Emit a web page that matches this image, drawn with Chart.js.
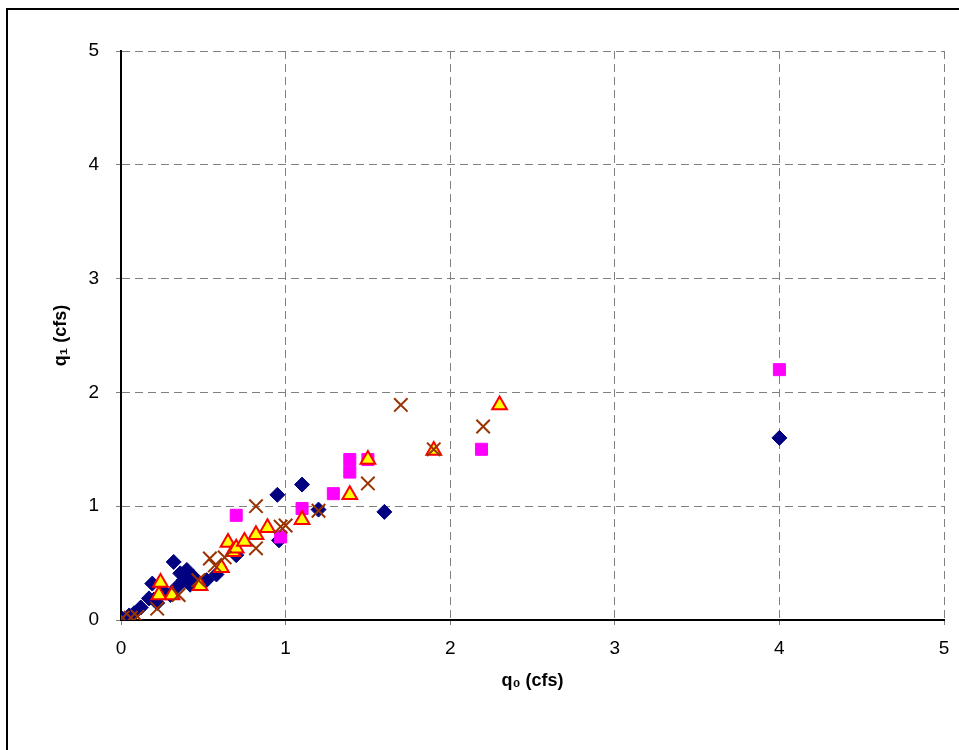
<!DOCTYPE html>
<html>
<head>
<meta charset="utf-8">
<script src="https://cdn.jsdelivr.net/npm/chart.js@4"></script>
<style>
  html, body { margin: 0; padding: 0; background: #fff; overflow: hidden; }
  #frame { position: absolute; left: 6px; top: 8px; width: 1000px; height: 800px; border: 2px solid #000; }
  #wrap { position: absolute; left: 0; top: 0; width: 959px; height: 750px; }
</style>
</head>
<body>
<div id="frame"></div>
<div id="wrap"><canvas id="maincanvas"></canvas></div>
<script>
// series: q0 (x) and q1 (y), cfs
var diamondX = [0.01, 0.05, 0.08, 0.12, 0.17, 0.19, 0.2, 0.22, 0.26, 0.3, 0.32, 0.34, 0.36, 0.38, 0.4, 0.42, 0.44, 0.52, 0.58, 0.7, 0.95, 0.96, 1.1, 1.2, 1.6, 4.0];
var diamondY = [0.01, 0.04, 0.06, 0.11, 0.19, 0.32, 0.18, 0.15, 0.25, 0.22, 0.51, 0.29, 0.41, 0.35, 0.44, 0.31, 0.38, 0.35, 0.4, 0.57, 1.1, 0.7, 1.19, 0.97, 0.95, 1.6];

var squareX = [0.7, 0.97, 1.1, 1.29, 1.39, 1.39, 1.5, 2.19, 4.0];
var squareY = [0.92, 0.73, 0.98, 1.11, 1.3, 1.41, 1.41, 1.5, 2.2];

var triangleX = [0.23, 0.24, 0.31, 0.48, 0.61, 0.65, 0.68, 0.7, 0.75, 0.82, 0.89, 1.1, 1.39, 1.5, 1.9, 2.3];
var triangleY = [0.22, 0.33, 0.22, 0.3, 0.46, 0.68, 0.6, 0.63, 0.69, 0.75, 0.81, 0.88, 1.1, 1.41, 1.49, 1.89];

var crossX = [0.01, 0.06, 0.1, 0.22, 0.35, 0.47, 0.54, 0.57, 0.63, 0.82, 0.82, 0.97, 1.0, 1.2, 1.5, 1.7, 1.9, 2.2];
var crossY = [0.02, 0.02, 0.03, 0.1, 0.22, 0.35, 0.54, 0.48, 0.55, 0.63, 1.0, 0.82, 0.83, 0.96, 1.2, 1.89, 1.5, 1.7];

var xTicks = [0, 1, 2, 3, 4, 5];
var yTicks = [0, 1, 2, 3, 4, 5];

function pts(xs, ys) {
    return xs.map(function(x, i){ return { x: x, y: ys[i] }; });
}

var ctx = document.getElementById("maincanvas").getContext("2d");
var mainChart = new Chart(ctx, {
    type: "scatter",
    data: {
        datasets: [{
            data: pts(diamondX, diamondY),
            pointStyle: "rectRot",
            pointRadius: 7.5,
            backgroundColor: "#000080",
            borderColor: "#000080",
            borderWidth: 1,
            order: 4
        }, {
            data: pts(squareX, squareY),
            pointStyle: "rect",
            pointRadius: 8.5,
            backgroundColor: "#FF00FF",
            borderColor: "#FF00FF",
            borderWidth: 1,
            order: 3
        }, {
            data: pts(triangleX, triangleY),
            pointStyle: "triangle",
            pointRadius: 8.5,
            backgroundColor: "#FFFF00",
            borderColor: "#FF0000",
            borderWidth: 2,
            order: 2
        }, {
            data: pts(crossX, crossY),
            pointStyle: "crossRot",
            pointRadius: 9.5,
            backgroundColor: "#993300",
            borderColor: "#993300",
            borderWidth: 2,
            order: 1
        }]
    },
    options: {
        responsive: true,
        maintainAspectRatio: false,
        animation: false,
        layout: { padding: { left: 48, top: 51, right: 15, bottom: 58 } },
        plugins: { legend: { display: false }, tooltip: { enabled: false } },
        scales: {
            x: {
                type: "linear",
                min: 0, max: 5,
                afterFit: function(s){ s.height = 72; s.paddingLeft = 0; s.paddingRight = 0; },
                afterBuildTicks: function(s){ s.ticks = xTicks.map(function(v){ return { value: v }; }); },
                grid: { color: "#808080", lineWidth: 1, tickLength: 5, tickColor: "#808080" },
                border: { display: true, color: "#000", width: 2, dash: [8, 5] },
                ticks: { color: "#000", font: { family: "Liberation Sans, Arial", size: 19 }, padding: 12, maxRotation: 0 },
                title: { display: true, text: "q\u2080 (cfs)", color: "#000", font: { family: "Liberation Sans, Arial", size: 18, weight: "bold" }, padding: { top: 0, bottom: 0 } }
            },
            y: {
                type: "linear",
                min: 0, max: 5,
                afterFit: function(s){ s.width = 121 - 48; s.paddingTop = 0; s.paddingBottom = 0; },
                afterBuildTicks: function(s){ s.ticks = yTicks.map(function(v){ return { value: v }; }); },
                grid: { color: "#808080", lineWidth: 1, tickLength: 5, tickColor: "#808080" },
                border: { display: true, color: "#000", width: 2, dash: [8, 5] },
                ticks: { color: "#000", font: { family: "Liberation Sans, Arial", size: 19 }, padding: 17 },
                title: { display: true, text: "q\u2081 (cfs)", color: "#000", font: { family: "Liberation Sans, Arial", size: 18, weight: "bold" }, padding: { top: 2, bottom: 0 } }
            }
        }
    }
});
</script>
</body>
</html>
